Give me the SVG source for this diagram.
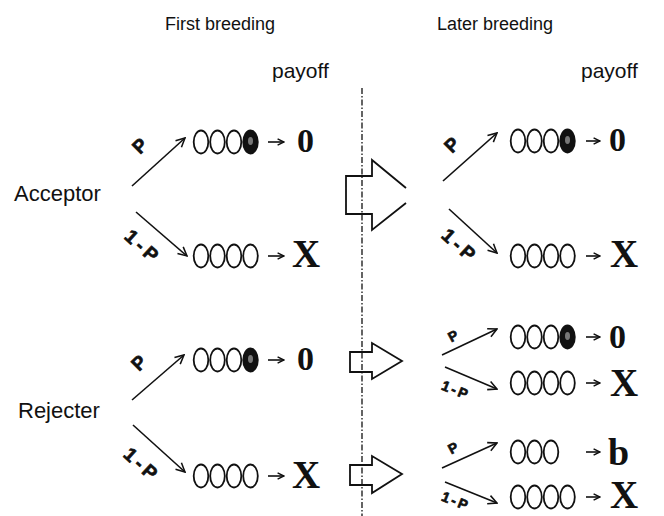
<svg xmlns="http://www.w3.org/2000/svg" xmlns:xlink="http://www.w3.org/1999/xlink" width="664" height="516" viewBox="0 0 664 516">
<style>
.t{font-family:"Liberation Sans",Arial,sans-serif;fill:#111}
.hdr{font-size:18px}
.lbl{font-size:21px}
.side{font-size:22px}
.prob{font-family:"Liberation Sans",Arial,sans-serif;font-size:19px;font-weight:bold;fill:#111;text-anchor:middle;dominant-baseline:central;stroke:#111;stroke-width:0.7}
.sp{letter-spacing:4px}
.probs{font-size:14px}
.sps{letter-spacing:2.5px}
.pay{font-family:"Liberation Serif","Times New Roman",serif;font-weight:bold;fill:#111}
.p0{font-size:34px}
.pX{font-size:39px}
.pb{font-size:38px}
.egg{fill:#fff;stroke:#111;stroke-width:1.8}
.eggf{fill:#111;stroke:#111;stroke-width:1.8}
.arr{stroke:#111;stroke-width:1.6;fill:none;marker-end:url(#ah)}
.sarr{stroke:#111;stroke-width:1.6;fill:none;marker-end:url(#sh)}
.big{fill:none;stroke:#111;stroke-width:1.8;stroke-linejoin:miter}
.div{stroke:#111;stroke-width:1.3;stroke-dasharray:6 2 1.5 2;fill:none}
</style>
<defs>
<marker id="ah" viewBox="0 0 10 10" refX="9" refY="5" markerWidth="11" markerHeight="11" markerUnits="userSpaceOnUse" orient="auto"><path d="M1,1 L9,5 L1,9" fill="none" stroke="#111" stroke-width="1.4"/></marker>
<marker id="sh" viewBox="0 0 10 10" refX="9" refY="5" markerWidth="8" markerHeight="8" markerUnits="userSpaceOnUse" orient="auto"><path d="M1,1 L9,5 L1,9" fill="none" stroke="#111" stroke-width="1.8"/></marker>
<g id="e3">
<ellipse class="egg" cx="8" cy="0" rx="7.3" ry="11.5"/>
<ellipse class="egg" cx="24.5" cy="0" rx="7.3" ry="11.5"/>
<ellipse class="egg" cx="41" cy="0" rx="7.3" ry="11.5"/>
</g>
<g id="e4"><use xlink:href="#e3"/><ellipse class="egg" cx="57.5" cy="0" rx="7.3" ry="11.5"/></g>
<g id="e4f"><use xlink:href="#e3"/><ellipse class="eggf" cx="57.5" cy="0" rx="7.3" ry="11.5"/><ellipse cx="57.5" cy="-1" rx="2.5" ry="4" fill="#777"/></g>
</defs>
<rect width="664" height="516" fill="#fff"/>

<g id="headers">
<text class="t hdr" x="165" y="30">First breeding</text>
<text class="t hdr" x="437" y="30">Later breeding</text>
<text class="t lbl" x="272" y="78">payoff</text>
<text class="t lbl" x="581" y="78">payoff</text>
</g>

<g id="acceptor"><text class="t side" x="14" y="201">Acceptor</text></g>
<g id="rejecter"><text class="t side" x="18" y="418">Rejecter</text></g>

<g id="acc-first-p"><use xlink:href="#e4f" x="193" y="142"/><text class="pay p0" x="297" y="152">0</text></g>
<g id="acc-first-q"><use xlink:href="#e4" x="193" y="256"/><text class="pay pX" x="292" y="267">X</text></g>
<g id="rej-first-p"><use xlink:href="#e4f" x="193" y="360"/><text class="pay p0" x="297" y="370">0</text></g>
<g id="rej-first-q"><use xlink:href="#e4" x="193" y="476"/><text class="pay pX" x="292" y="488">X</text></g>

<g id="acc-later-p"><use xlink:href="#e4f" x="510" y="141"/><text class="pay p0" x="609" y="151">0</text></g>
<g id="acc-later-q"><use xlink:href="#e4" x="510" y="256"/><text class="pay pX" x="610" y="267">X</text></g>
<g id="rej-later-1"><use xlink:href="#e4f" x="510" y="337"/><text class="pay p0" x="609" y="348">0</text></g>
<g id="rej-later-2"><use xlink:href="#e4" x="510" y="383"/><text class="pay pX" x="610" y="396">X</text></g>
<g id="rej-later-3"><use xlink:href="#e3" x="510" y="452"/><text class="pay pb" x="608" y="465">b</text></g>
<g id="rej-later-4"><use xlink:href="#e4" x="510" y="497"/><text class="pay pX" x="610" y="508">X</text></g>

<g id="transitions">
<polyline class="big" points="406,188 372,160 372,176 346,176 346,214 372,214 372,230 406,203"/>
<polygon class="big" points="350,352 372,352 372,343 402,361 372,379 372,372 350,372"/>
<polygon class="big" points="350,465 372,465 372,456 402,474 372,493 372,485 350,485"/>
<line class="div" x1="362" y1="88" x2="362" y2="516"/>
</g>

<g id="connectors">
<line class="arr" x1="132" y1="186" x2="185" y2="138"/>
<line class="arr" x1="136" y1="212" x2="187" y2="256"/>
<line class="arr" x1="132" y1="400" x2="184" y2="355"/>
<line class="arr" x1="133" y1="425" x2="185" y2="472"/>
<line class="arr" x1="443" y1="181" x2="497" y2="133"/>
<line class="arr" x1="449" y1="209" x2="497" y2="253"/>
<line class="arr" x1="442" y1="355" x2="497" y2="329"/>
<line class="arr" x1="445" y1="367" x2="497" y2="389"/>
<line class="arr" x1="442" y1="468" x2="497" y2="443"/>
<line class="arr" x1="445" y1="482" x2="497" y2="503"/>
<line class="sarr" x1="268" y1="142" x2="284" y2="142"/>
<line class="sarr" x1="268" y1="256" x2="284" y2="256"/>
<line class="sarr" x1="268" y1="360" x2="284" y2="360"/>
<line class="sarr" x1="268" y1="476" x2="284" y2="476"/>
<line class="sarr" x1="586" y1="141" x2="600" y2="141"/>
<line class="sarr" x1="586" y1="256" x2="600" y2="256"/>
<line class="sarr" x1="586" y1="337" x2="600" y2="337"/>
<line class="sarr" x1="586" y1="383" x2="600" y2="383"/>
<line class="sarr" x1="586" y1="452" x2="600" y2="452"/>
<line class="sarr" x1="586" y1="497" x2="600" y2="497"/>
</g>

<g id="probabilities">
<text class="prob" transform="translate(140,146) rotate(-45)">P</text>
<text class="prob sp" transform="translate(143,247) rotate(42)">1-P</text>
<text class="prob" transform="translate(139,363) rotate(-45)">P</text>
<text class="prob sp" transform="translate(142,465) rotate(42)">1-P</text>
<text class="prob" transform="translate(452,145) rotate(-45)">P</text>
<text class="prob sp" transform="translate(460,246) rotate(42)">1-P</text>
<text class="prob probs" transform="translate(453,336) rotate(-28)">P</text>
<text class="prob probs sps" transform="translate(456,390) rotate(22)">1-P</text>
<text class="prob probs" transform="translate(453,448) rotate(-28)">P</text>
<text class="prob probs sps" transform="translate(456,501) rotate(22)">1-P</text>
</g>
</svg>
